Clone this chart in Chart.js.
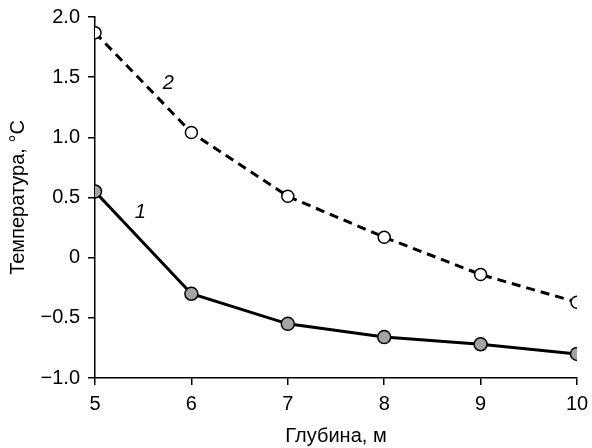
<!DOCTYPE html>
<html>
<head>
<meta charset="utf-8">
<script src="https://cdn.jsdelivr.net/npm/chart.js@4"></script>
<style>
  html, body { margin: 0; padding: 0; background: #fff; }
  #wrap { width: 592px; height: 448px; }
</style>
</head>
<body>
<div id="wrap"><canvas id="chart" width="592" height="448"></canvas></div>
<script>
// depth, m
var depths = [5, 6, 7, 8, 9, 10];
// curve 1 (filled markers) and curve 2 (open markers), °C
var temp1 = [0.55, -0.30, -0.55, -0.66, -0.72, -0.80];
var temp2 = [1.87, 1.04, 0.51, 0.17, -0.14, -0.37];
var yTicks = [-1.0, -0.5, 0, 0.5, 1.0, 1.5, 2.0];
var xTicks = [5, 6, 7, 8, 9, 10];

var FONT = "'Liberation Sans', Arial, sans-serif";

function toXY(xs, ys) {
  return xs.map(function (x, i) { return { x: x, y: ys[i] }; });
}

function fmtY(v) {
  if (v === 0) return '0';
  var s = Math.abs(v).toFixed(1);
  return v < 0 ? '\u2212' + s : s;
}

// curve numbers drawn in the plot area
var curveLabels = [
  { text: '1', x: 5.47, y: 0.38 },
  { text: '2', x: 5.76, y: 1.45 },
];

var labelPlugin = {
  id: 'curveLabels',
  afterDatasetsDraw: function (chart) {
    var ctx = chart.ctx;
    var xs = chart.scales.x, ys = chart.scales.y;
    ctx.save();
    ctx.fillStyle = '#000';
    ctx.font = 'italic 20px ' + FONT;
    ctx.textAlign = 'center';
    ctx.textBaseline = 'middle';
    curveLabels.forEach(function (l) {
      ctx.fillText(l.text, xs.getPixelForValue(l.x), ys.getPixelForValue(l.y));
    });
    ctx.restore();
  },
};

new Chart(document.getElementById('chart'), {
  type: 'scatter',
  data: {
    datasets: [
      {
        data: toXY(depths, temp2),
        showLine: true,
        borderColor: '#000',
        borderWidth: 3,
        borderDash: [9, 6],
        pointRadius: 6,
        pointBorderWidth: 1.5,
        pointBackgroundColor: '#fff',
        pointBorderColor: '#000',
      },
      {
        data: toXY(depths, temp1),
        showLine: true,
        borderColor: '#000',
        borderWidth: 3,
        pointRadius: 6.5,
        pointBorderWidth: 1.5,
        pointBackgroundColor: '#a4a4a4',
        pointBorderColor: '#000',
      },
    ],
  },
  options: {
    responsive: false,
    animation: false,
    layout: { padding: { left: 0, right: 15, top: 17, bottom: 0 } },
    plugins: { legend: { display: false }, tooltip: { enabled: false } },
    scales: {
      x: {
        type: 'linear',
        min: 5,
        max: 10,
        afterFit: function (s) { s.height = 70; s.paddingLeft = 0; s.paddingRight = 0; },
        afterBuildTicks: function (s) { s.ticks = xTicks.map(function (v) { return { value: v }; }); },
        border: { color: '#000', width: 1.5 },
        grid: { drawOnChartArea: false, color: '#000', lineWidth: 1.5, tickLength: 7 },
        ticks: { color: '#000', font: { family: FONT, size: 20 }, padding: 7, maxRotation: 0 },
        title: {
          display: true,
          text: 'Глубина, м',
          color: '#000',
          font: { family: FONT, size: 20 },
          padding: { top: 0, bottom: 0 },
        },
      },
      y: {
        type: 'linear',
        min: -1,
        max: 2,
        afterFit: function (s) { s.width = 95; s.paddingTop = 0; s.paddingBottom = 0; },
        afterBuildTicks: function (s) { s.ticks = yTicks.map(function (v) { return { value: v }; }); },
        border: { color: '#000', width: 1.5 },
        grid: { drawOnChartArea: false, color: '#000', lineWidth: 1.5, tickLength: 7 },
        ticks: {
          color: '#000',
          font: { family: FONT, size: 20 },
          padding: 8,
          callback: function (v) { return fmtY(v); },
        },
        title: {
          display: true,
          text: 'Температура, °C',
          color: '#000',
          font: { family: FONT, size: 20 },
          padding: { top: 6, bottom: 0 },
        },
      },
    },
  },
  plugins: [labelPlugin],
});
</script>
</body>
</html>
